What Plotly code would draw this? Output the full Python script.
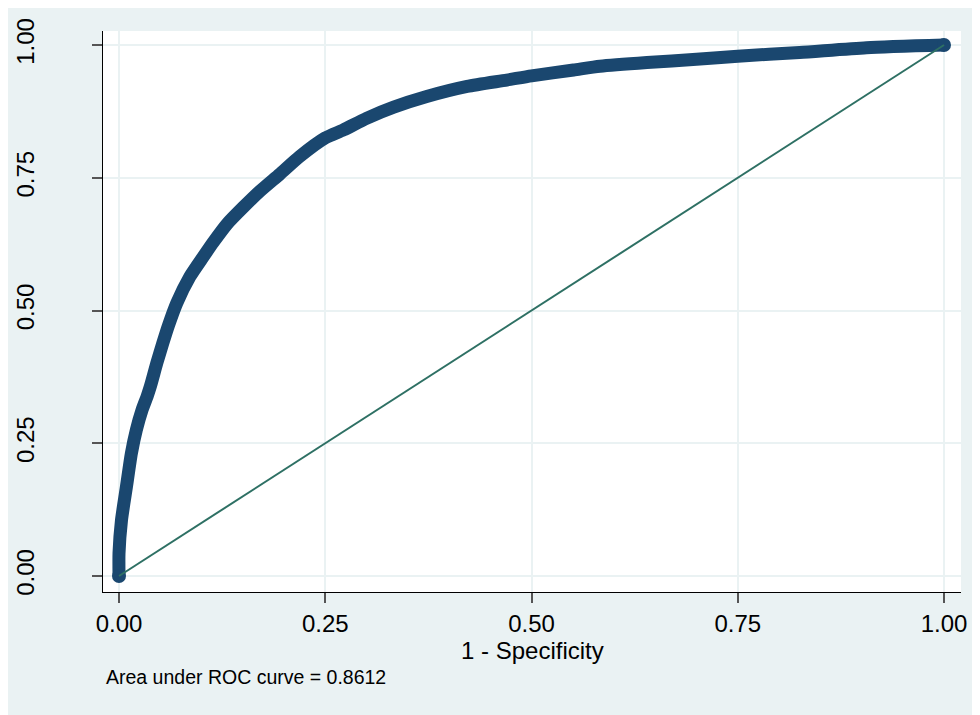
import plotly.graph_objects as go

# ROC curve points (1 - specificity, sensitivity)
fpr = [0.0, 0.0, 0.003, 0.009, 0.015, 0.021, 0.028, 0.034, 0.038, 0.046,
       0.053, 0.060, 0.070, 0.086, 0.102, 0.114, 0.131, 0.151, 0.171, 0.195,
       0.219, 0.250, 0.272, 0.300, 0.333, 0.373, 0.422, 0.470, 0.500, 0.551,
       0.583, 0.640, 0.700, 0.750, 0.825, 0.906, 1.0]
tpr = [0.0, 0.043, 0.105, 0.168, 0.231, 0.275, 0.313, 0.338, 0.357, 0.402,
       0.438, 0.472, 0.514, 0.564, 0.601, 0.628, 0.663, 0.695, 0.725, 0.757,
       0.790, 0.825, 0.840, 0.862, 0.883, 0.903, 0.922, 0.934, 0.942, 0.953,
       0.960, 0.967, 0.973, 0.979, 0.986, 0.995, 1.0]

ref_x = [0, 1]
ref_y = [0, 1]

tick_vals = [0, 0.25, 0.5, 0.75, 1]
tick_text = ["0.00", "0.25", "0.50", "0.75", "1.00"]
x_title = "1 - Specificity"
auc_note = "Area under ROC curve = 0.8612"

BG = "#eaf2f3"
NAVY = "#1a476f"
GREEN = "#2e7064"
FONT = "Liberation Sans, Arial, sans-serif"

fig = go.Figure()

fig.add_trace(go.Scatter(
    x=fpr, y=tpr, mode="lines",
    line=dict(color=NAVY, width=13, shape="spline", smoothing=0.6),
    showlegend=False, hoverinfo="skip"
))
# round ends of the thick marker band
fig.add_trace(go.Scatter(
    x=[fpr[0], fpr[-1]], y=[tpr[0], tpr[-1]], mode="markers",
    marker=dict(color=NAVY, size=14),
    showlegend=False, hoverinfo="skip"
))
fig.add_trace(go.Scatter(
    x=ref_x, y=ref_y, mode="lines",
    line=dict(color=GREEN, width=2),
    showlegend=False, hoverinfo="skip"
))

axis_common = dict(
    tickvals=tick_vals, ticktext=tick_text,
    automargin=False,
    showgrid=True, gridcolor=BG, gridwidth=2,
    zeroline=False,
    showline=True, linecolor="black", linewidth=1.2,
    ticks="outside", ticklen=10, tickwidth=1.5, tickcolor="#555555",
    tickfont=dict(family=FONT, size=24, color="black"),
)

# the page body adds 8px, so the figure is drawn 8px smaller
fig.update_layout(
    width=972, height=707,
    margin=dict(l=95, r=19, t=23, b=123),
    paper_bgcolor=BG,
    plot_bgcolor="white",
    font=dict(family=FONT, color="black"),
    xaxis=dict(range=[-0.0194, 1.0206], **axis_common),
    yaxis=dict(
        range=[-0.0301, 1.0264],
        tickangle=-90,
        ticklabelstandoff=48,
        **axis_common
    ),
    annotations=[
        dict(text=x_title, xref="paper", yref="paper",
             x=0.5, y=-0.104, xanchor="center", yanchor="middle",
             showarrow=False, font=dict(family=FONT, size=24, color="black")),
        dict(text=auc_note, xref="paper", yref="paper",
             x=0.001, y=-0.151, xanchor="left", yanchor="middle",
             showarrow=False, font=dict(family=FONT, size=19.5, color="black")),
    ],
)

fig.write_html("out.html")
